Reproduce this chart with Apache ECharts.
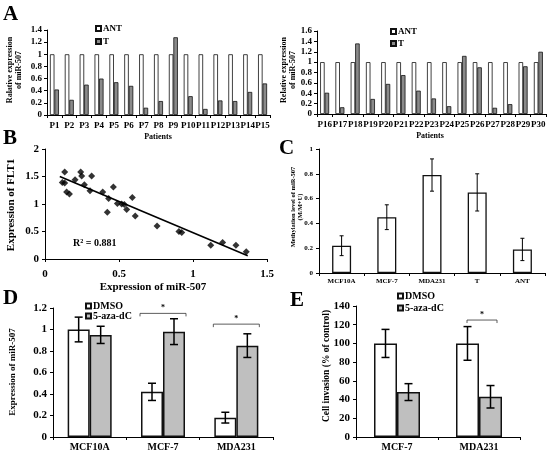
<!DOCTYPE html>
<html><head><meta charset="utf-8">
<script src="https://cdn.jsdelivr.net/npm/echarts@6/dist/echarts.min.js"></script>
<style>html,body{margin:0;padding:0;background:#fff}#c{width:550px;height:456px}</style>
</head><body><div id="c"></div>
<script>
// ---------- DATA ----------
const patientsA1 = ['P1','P2','P3','P4','P5','P6','P7','P8','P9','P10','P11','P12','P13','P14','P15'];
const antA1 = [1,1,1,1,1,1,1,1,1,1,1,1,1,1,1];
const tA1 = [0.42,0.25,0.50,0.60,0.54,0.48,0.12,0.23,1.28,0.31,0.10,0.24,0.23,0.38,0.52];
const patientsA2 = ['P16','P17','P18','P19','P20','P21','P22','P23','P24','P25','P26','P27','P28','P29','P30'];
const antA2 = [1,1,1,1,1,1,1,1,1,1,1,1,1,1,1];
const tA2 = [0.41,0.13,1.36,0.29,0.58,0.75,0.45,0.30,0.15,1.12,0.90,0.12,0.19,0.92,1.20];
const scatterX = [0.117,0.133,0.133,0.146,0.165,0.203,0.241,0.248,0.266,0.315,0.304,0.39,0.462,0.43,0.421,0.489,0.518,0.536,0.552,0.59,0.61,0.757,0.905,0.924,1.12,1.20,1.29,1.36];
const scatterY = [1.39,1.58,1.38,1.22,1.18,1.44,1.58,1.51,1.35,1.51,1.24,1.22,1.31,1.10,0.85,1.01,1.00,0.99,0.90,1.12,0.78,0.60,0.50,0.48,0.25,0.30,0.25,0.13];
const trendX = [0.10, 1.37];
const trendY = [1.50, 0.06];
const cCats = ['MCF10A','MCF-7','MDA231','T','ANT'];
const cVals = [0.22,0.45,0.79,0.65,0.19];
const cErr = [0.08,0.10,0.13,0.15,0.09];
const dCats = ['MCF10A','MCF-7','MDA231'];
const dDMSO = [1.0,0.42,0.18];
const dDMSOErr = [0.115,0.08,0.05];
const dAza = [0.95,0.98,0.85];
const dAzaErr = [0.08,0.12,0.11];
const dSigCats = [1,2];
const dSigY = [1.15,1.05];
const eCats = ['MCF-7','MDA231'];
const eDMSO = [100,100];
const eDMSOErr = [15,18];
const eAza = [48,43];
const eAzaErr = [9,12];
const eSigCats = [1];
const eSigY = [125];

// ---------- STYLE ----------
const FF = '"Liberation Serif", "Times New Roman", serif';
const txt = (size) => ({fontFamily: FF, fontWeight: 'bold', fontSize: size, color: '#000'});
const axLine = {show: true, lineStyle: {color: '#000', width: 1}};
const axTick = (len) => ({show: true, length: len, lineStyle: {color: '#000'}});

function catAxis(grid, cats, size, margin) {
  return {type: 'category', gridIndex: grid, data: cats, axisLine: axLine, axisTick: axTick(3),
    axisLabel: Object.assign(txt(size), {interval: 0, margin: margin}), splitLine: {show: false}};
}
function valAxis(grid, min, max, interval, size, margin) {
  return {type: 'value', gridIndex: grid, min, max, interval, axisLine: axLine, axisTick: axTick(3),
    axisLabel: Object.assign(txt(size), {margin: margin}), splitLine: {show: false}};
}
function errSeries(grid, data, offset, capW, lw) {
  return {type: 'custom', xAxisIndex: grid, yAxisIndex: grid, data, z: 10, silent: true,
    encode: {x: 0, y: [1, 2]},
    renderItem(params, api) {
      const i = api.value(0);
      const hi = api.coord([i, api.value(2)]);
      const lo = api.coord([i, api.value(1)]);
      const x = hi[0] + offset;
      const st = {stroke: '#000', lineWidth: lw};
      return {type: 'group', children: [
        {type: 'line', shape: {x1: x, y1: hi[1], x2: x, y2: lo[1]}, style: st},
        {type: 'line', shape: {x1: x - capW, y1: hi[1], x2: x + capW, y2: hi[1]}, style: st},
        {type: 'line', shape: {x1: x - capW, y1: lo[1], x2: x + capW, y2: lo[1]}, style: st}
      ]};
    }};
}
function sigSeries(grid, cats, ys, left, right) {
  return {type: 'custom', xAxisIndex: grid, yAxisIndex: grid, z: 11, silent: true,
    data: cats.map((c, k) => [c, ys[k]]),
    renderItem(params, api) {
      const p = api.coord([api.value(0), api.value(1)]);
      const x1 = p[0] - left, x2 = p[0] + right, y = p[1];
      return {type: 'group', children: [
        {type: 'polyline', shape: {points: [[x1, y + 3], [x1, y], [x2, y], [x2, y + 3]]},
          style: {stroke: '#333', lineWidth: 0.8, fill: null}},
        {type: 'text', x: (x1 + x2) / 2, y: y - 1,
          style: {text: '*', font: 'bold 8px ' + FF, fill: '#000', textAlign: 'center', textVerticalAlign: 'bottom'}}
      ]};
    }};
}
const errData = (vals, errs) => vals.map((v, i) => [i, v - errs[i], v + errs[i]]);

const whiteBar = (bw) => ({color: '#fff', borderColor: '#111', borderWidth: bw});
const grayBar = (c, bw) => ({color: c, borderColor: '#111', borderWidth: bw});

function vText(x, y, text, size, lh) {
  return {type: 'text', x, y, rotation: Math.PI / 2,
    style: {text, font: 'bold ' + size + 'px ' + FF, fill: '#000', textAlign: 'center', textVerticalAlign: 'middle', lineHeight: lh}};
}
function hText(x, y, text, size, align) {
  return {type: 'text', x, y,
    style: {text, font: 'bold ' + size + 'px ' + FF, fill: '#000', textAlign: align || 'center', textVerticalAlign: 'middle'}};
}
function legend(left, top, names, size, gap) {
  return {left, top, orient: 'vertical', data: names, itemWidth: 5, itemHeight: 5, itemGap: gap, icon: 'rect',
    selectedMode: false, padding: 0,
    textStyle: Object.assign(txt(size), {lineHeight: size, padding: [0, 0, 0, -3]})};
}

const option = {
  animation: false,
  backgroundColor: '#fff',
  grid: [
    {left: 47, top: 30, width: 223, height: 85},
    {left: 317, top: 31, width: 229, height: 83},
    {left: 45, top: 149, width: 222, height: 110},
    {left: 319, top: 149, width: 226, height: 124},
    {left: 53, top: 308, width: 220, height: 129},
    {left: 356, top: 306, width: 164, height: 131}
  ],
  xAxis: [
    catAxis(0, patientsA1, 9, 6),
    catAxis(1, patientsA2, 9, 6),
    {type: 'value', gridIndex: 2, min: 0, max: 1.5, interval: 0.5, axisLine: axLine, axisTick: axTick(3),
      axisLabel: Object.assign(txt(11), {margin: 10, formatter: v => String(v)}), splitLine: {show: false}},
    catAxis(3, cCats, 7, 5),
    catAxis(4, dCats, 10, 5),
    catAxis(5, eCats, 10, 5)
  ],
  yAxis: [
    valAxis(0, 0, 1.4, 0.2, 9, 5),
    valAxis(1, 0, 1.6, 0.2, 9, 5),
    valAxis(2, 0, 2, 0.5, 11, 6),
    valAxis(3, 0, 1, 0.2, 7, 6),
    valAxis(4, 0, 1.2, 0.2, 11, 6),
    valAxis(5, 0, 140, 20, 11, 6)
  ],
  legend: [
    legend(95, 24, ['ANT', 'T'], 9, 4),
    legend(390, 27, ['ANT', 'T'], 9, 3),
    legend(85, 301, ['DMSO', '5-aza-dC'], 10, 0),
    legend(397, 291, ['DMSO', '5-aza-dC'], 10, 2)
  ],
  series: [
    {name: 'ANT', type: 'bar', xAxisIndex: 0, yAxisIndex: 0, data: antA1, barWidth: 4.5, barGap: '0%', itemStyle: whiteBar(0.8)},
    {name: 'T', type: 'bar', xAxisIndex: 0, yAxisIndex: 0, data: tA1, barWidth: 4.5, barGap: '0%', itemStyle: grayBar('#8a8a8a', 0.8)},
    {name: 'ANT', type: 'bar', xAxisIndex: 1, yAxisIndex: 1, data: antA2, barWidth: 4.5, barGap: '0%', itemStyle: whiteBar(0.8)},
    {name: 'T', type: 'bar', xAxisIndex: 1, yAxisIndex: 1, data: tA2, barWidth: 4.5, barGap: '0%', itemStyle: grayBar('#8a8a8a', 0.8)},
    {type: 'scatter', xAxisIndex: 2, yAxisIndex: 2, symbol: 'diamond', symbolSize: 7,
      data: scatterX.map((x, i) => [x, scatterY[i]]), itemStyle: {color: '#000'}},
    {type: 'line', xAxisIndex: 2, yAxisIndex: 2, showSymbol: false, symbol: 'none',
      data: trendX.map((x, i) => [x, trendY[i]]), lineStyle: {color: '#000', width: 1.6}},
    {type: 'bar', xAxisIndex: 3, yAxisIndex: 3, data: cVals, barWidth: 19, itemStyle: whiteBar(1.3)},
    errSeries(3, errData(cVals, cErr), 0, 2, 1),
    {name: 'DMSO', type: 'bar', xAxisIndex: 4, yAxisIndex: 4, data: dDMSO, barWidth: 22, barGap: '0%', itemStyle: whiteBar(1.5)},
    {name: '5-aza-dC', type: 'bar', xAxisIndex: 4, yAxisIndex: 4, data: dAza, barWidth: 22, barGap: '0%', itemStyle: grayBar('#bfbfbf', 1.5)},
    errSeries(4, errData(dDMSO, dDMSOErr), -11, 4, 1.5),
    errSeries(4, errData(dAza, dAzaErr), 11, 4, 1.5),
    sigSeries(4, dSigCats, dSigY, 23, 23),
    {name: 'DMSO', type: 'bar', xAxisIndex: 5, yAxisIndex: 5, data: eDMSO, barWidth: 23, barGap: '0%', itemStyle: whiteBar(1.5)},
    {name: '5-aza-dC', type: 'bar', xAxisIndex: 5, yAxisIndex: 5, data: eAza, barWidth: 23, barGap: '0%', itemStyle: grayBar('#bfbfbf', 1.5)},
    errSeries(5, errData(eDMSO, eDMSOErr), -11.5, 4, 1.5),
    errSeries(5, errData(eAza, eAzaErr), 11.5, 4, 1.5),
    sigSeries(5, eSigCats, eSigY, 12, 18)
  ],
  graphic: [
    {type: 'text', left: 3, top: 4, style: {text: 'A', font: 'bold 21px ' + FF, fill: '#000'}},
    {type: 'text', left: 3, top: 128, style: {text: 'B', font: 'bold 21px ' + FF, fill: '#000'}},
    {type: 'text', left: 279, top: 138, style: {text: 'C', font: 'bold 21px ' + FF, fill: '#000'}},
    {type: 'text', left: 3, top: 288, style: {text: 'D', font: 'bold 21px ' + FF, fill: '#000'}},
    {type: 'text', left: 290, top: 290, style: {text: 'E', font: 'bold 21px ' + FF, fill: '#000'}},
    vText(14, 70, 'Ralative expression\nof miR-507', 8, 9),
    vText(288, 70, 'Relative expression\nof miR-507', 8, 9),
    hText(158, 137, 'Patients', 8),
    hText(430, 136, 'Patients', 8),
    vText(11, 205, 'Expression of FLT1', 11, 11),
    hText(153, 287, 'Expression of miR-507', 11),
    hText(73, 243, 'R² = 0.881', 10, 'left'),
    vText(297, 207, 'Methylation level of miR-507\n(M/M+U)', 6.5, 7),
    vText(13, 372, 'Expression of miR-507', 9, 9),
    vText(327, 366, 'Cell invasion (% of control)', 9.5, 10)
  ]
};
const chart = echarts.init(document.getElementById('c'), null, {renderer: 'canvas'});
chart.setOption(option);
</script>
</body></html>
